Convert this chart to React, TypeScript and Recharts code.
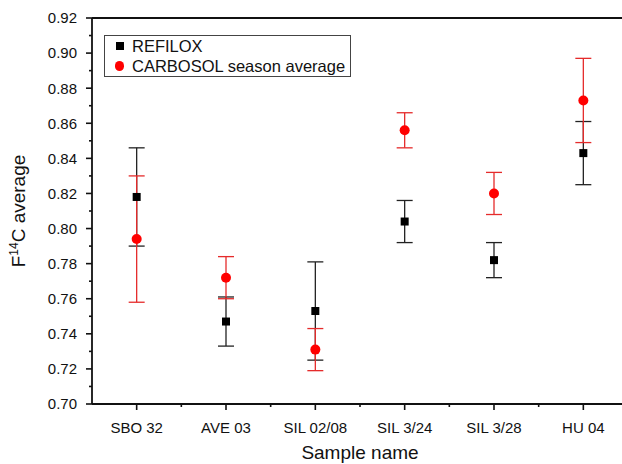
import { ScatterChart, Scatter, XAxis, YAxis, ErrorBar, Legend } from "recharts";
import { ReactElement } from "react";

const samples = ["SBO 32", "AVE 03", "SIL 02/08", "SIL 3/24", "SIL 3/28", "HU 04"];
const refiloxMean = [0.818, 0.747, 0.753, 0.804, 0.782, 0.843];
const refiloxErr = [0.028, 0.014, 0.028, 0.012, 0.01, 0.018];
const carbosolMean = [0.794, 0.772, 0.731, 0.856, 0.82, 0.873];
const carbosolErr = [0.036, 0.012, 0.012, 0.01, 0.012, 0.024];

const xTicks = [-0.5, 0, 0.5, 1, 1.5, 2, 2.5, 3, 3.5, 4, 4.5, 5, 5.5];
const yTicks = [
  0.7, 0.71, 0.72, 0.73, 0.74, 0.75, 0.76, 0.77, 0.78, 0.79, 0.8, 0.81, 0.82,
  0.83, 0.84, 0.85, 0.86, 0.87, 0.88, 0.89, 0.9, 0.91, 0.92,
];
const yMajor = [0.7, 0.72, 0.74, 0.76, 0.78, 0.8, 0.82, 0.84, 0.86, 0.88, 0.9, 0.92];
const yMinor = [0.71, 0.73, 0.75, 0.77, 0.79, 0.81, 0.83, 0.85, 0.87, 0.89, 0.91];
const xMajor = [0, 1, 2, 3, 4, 5];
const xMinor = [0.5, 1.5, 2.5, 3.5, 4.5];

const refilox = samples.map((_, i) => ({ x: i, y: refiloxMean[i], err: refiloxErr[i] }));
const carbosol = samples.map((_, i) => ({ x: i, y: carbosolMean[i], err: carbosolErr[i] }));

const FONT = "'Liberation Sans', Arial, sans-serif";
const AXIS = "#111";
const TICK_SIZE = 6;
const X_MARGIN = 12;
const Y_MARGIN = 9;

const isMajor = (v: number) => Math.round(v * 100) % 2 === 0;

const XTick = (props: any) => {
  const { x, y, payload } = props;
  const v = payload.value as number;
  const major = Number.isInteger(v) && v >= 0;
  const y0 = y - TICK_SIZE - X_MARGIN;
  if (v < 0 || v > 5) return <g />;
  return (
    <g>
      <line x1={x} x2={x} y1={y0} y2={y0 + (major ? 6 : 3)} stroke={AXIS} strokeWidth={1.6} />
      {major && (
        <text x={x} y={y} dy="0.71em" textAnchor="middle" fontSize={15} fontFamily={FONT} fill="#111">
          {samples[v]}
        </text>
      )}
    </g>
  );
};

const YTick = (props: any) => {
  const { x, y, payload } = props;
  const v = payload.value as number;
  const major = isMajor(v);
  const x0 = x + TICK_SIZE + Y_MARGIN;
  return (
    <g>
      <line x1={x0} x2={x0 - (major ? 6 : 3)} y1={y} y2={y} stroke={AXIS} strokeWidth={1.6} />
      {major && (
        <text x={x} y={y} dy="0.355em" textAnchor="end" fontSize={15} fontFamily={FONT} fill="#111">
          {v.toFixed(2)}
        </text>
      )}
    </g>
  );
};

const square = (p: any) => (
  <rect x={p.cx - 4} y={p.cy - 4} width={8} height={8} fill="#000" />
);
const dot = (p: any) => <circle cx={p.cx} cy={p.cy} r={5} fill="#ff0000" />;

const renderLegend = () => (
  <div
    style={{
      border: "1px solid #444",
      background: "#fff",
      width: 247,
      boxSizing: "border-box",
      padding: "0 0 0 10px",
      fontFamily: FONT,
      fontSize: 16.5,
      lineHeight: "20px",
      color: "#111",
    }}
  >
    <div style={{ display: "flex", alignItems: "center" }}>
      <span style={{ width: 9, display: "flex", justifyContent: "center", marginRight: 8 }}>
        <span style={{ width: 8, height: 8, background: "#000" }} />
      </span>
      REFILOX
    </div>
    <div style={{ display: "flex", alignItems: "center" }}>
      <span style={{ width: 9, display: "flex", justifyContent: "center", marginRight: 8 }}>
        <span style={{ width: 10, height: 10, borderRadius: 5, background: "#ff0000" }} />
      </span>
      CARBOSOL season average
    </div>
  </div>
);

const YLabel = (props: any) => {
  const vb = props.viewBox;
  const cx = vb.x + 25;
  const cy = vb.y + vb.height / 2;
  return (
    <text
      x={cx}
      y={cy}
      transform={`rotate(-90, ${cx}, ${cy})`}
      textAnchor="middle"
      fontSize={19}
      fontFamily={FONT}
      fill="#111"
    >
      F<tspan fontSize={12} dy={-7}>14</tspan>
      <tspan dy={7}>C average</tspan>
    </text>
  );
};

const XLabel = (props: any) => {
  const vb = props.viewBox;
  return (
    <text
      x={vb.x + vb.width / 2}
      y={vb.y + 55}
      textAnchor="middle"
      fontSize={19}
      fontFamily={FONT}
      fill="#111"
    >
      Sample name
    </text>
  );
};

export const App = (): ReactElement => {
  return (
    <div
      style={{
        position: "absolute",
        left: 0,
        top: 0,
        width: 622,
        height: 464,
        overflow: "hidden",
        background: "#fff",
      }}
    >
      <ScatterChart
        width={640}
        height={464}
        margin={{ top: 18, right: 12, bottom: 0, left: 0 }}
      >
        <XAxis
          xAxisId={0}
          type="number"
          dataKey="x"
          domain={[-0.5, 5.5]}
          ticks={xTicks}
          interval={0}
          height={60}
          tickSize={TICK_SIZE}
          tickMargin={X_MARGIN}
          tickLine={false}
          tick={<XTick />}
          axisLine={{ stroke: AXIS, strokeWidth: 1.8 }}
          label={<XLabel />}
        />
        <XAxis
          xAxisId="topMajor"
          type="number"
          orientation="top"
          mirror
          domain={[-0.5, 5.5]}
          ticks={xMajor}
          interval={0}
          tickSize={6}
          tick={false}
          tickLine={{ stroke: AXIS, strokeWidth: 1.6 }}
          axisLine={{ stroke: AXIS, strokeWidth: 1.8 }}
        />
        <XAxis
          xAxisId="topMinor"
          type="number"
          orientation="top"
          mirror
          domain={[-0.5, 5.5]}
          ticks={xMinor}
          interval={0}
          tickSize={3}
          tick={false}
          tickLine={{ stroke: AXIS, strokeWidth: 1.6 }}
          axisLine={false}
        />
        <YAxis
          yAxisId={0}
          type="number"
          dataKey="y"
          domain={[0.7, 0.92]}
          ticks={yTicks}
          interval={0}
          width={92}
          tickSize={TICK_SIZE}
          tickMargin={Y_MARGIN}
          tickLine={false}
          tick={<YTick />}
          axisLine={{ stroke: AXIS, strokeWidth: 1.8 }}
          label={<YLabel />}
        />
        <YAxis
          yAxisId="rightMajor"
          type="number"
          orientation="right"
          mirror
          domain={[0.7, 0.92]}
          ticks={yMajor}
          interval={0}
          tickSize={8}
          tick={false}
          tickLine={{ stroke: AXIS, strokeWidth: 1.6 }}
          axisLine={{ stroke: AXIS, strokeWidth: 1.8 }}
        />
        <YAxis
          yAxisId="rightMinor"
          type="number"
          orientation="right"
          mirror
          domain={[0.7, 0.92]}
          ticks={yMinor}
          interval={0}
          tickSize={4}
          tick={false}
          tickLine={{ stroke: AXIS, strokeWidth: 1.6 }}
          axisLine={false}
        />
        <Legend
          content={renderLegend}
          layout="vertical"
          align="center"
          verticalAlign="middle"
          wrapperStyle={{ left: 104, top: 35, width: "auto" }}
        />
        <Scatter
          name="REFILOX"
          data={refilox}
          shape={square}
          isAnimationActive={false}
        >
          <ErrorBar dataKey="err" direction="y" width={8} stroke="#222" strokeWidth={1.3} />
        </Scatter>
        <Scatter
          name="CARBOSOL season average"
          data={carbosol}
          shape={dot}
          isAnimationActive={false}
        >
          <ErrorBar dataKey="err" direction="y" width={8} stroke="#e52b2b" strokeWidth={1.3} />
        </Scatter>
      </ScatterChart>
    </div>
  );
};

export default App;
